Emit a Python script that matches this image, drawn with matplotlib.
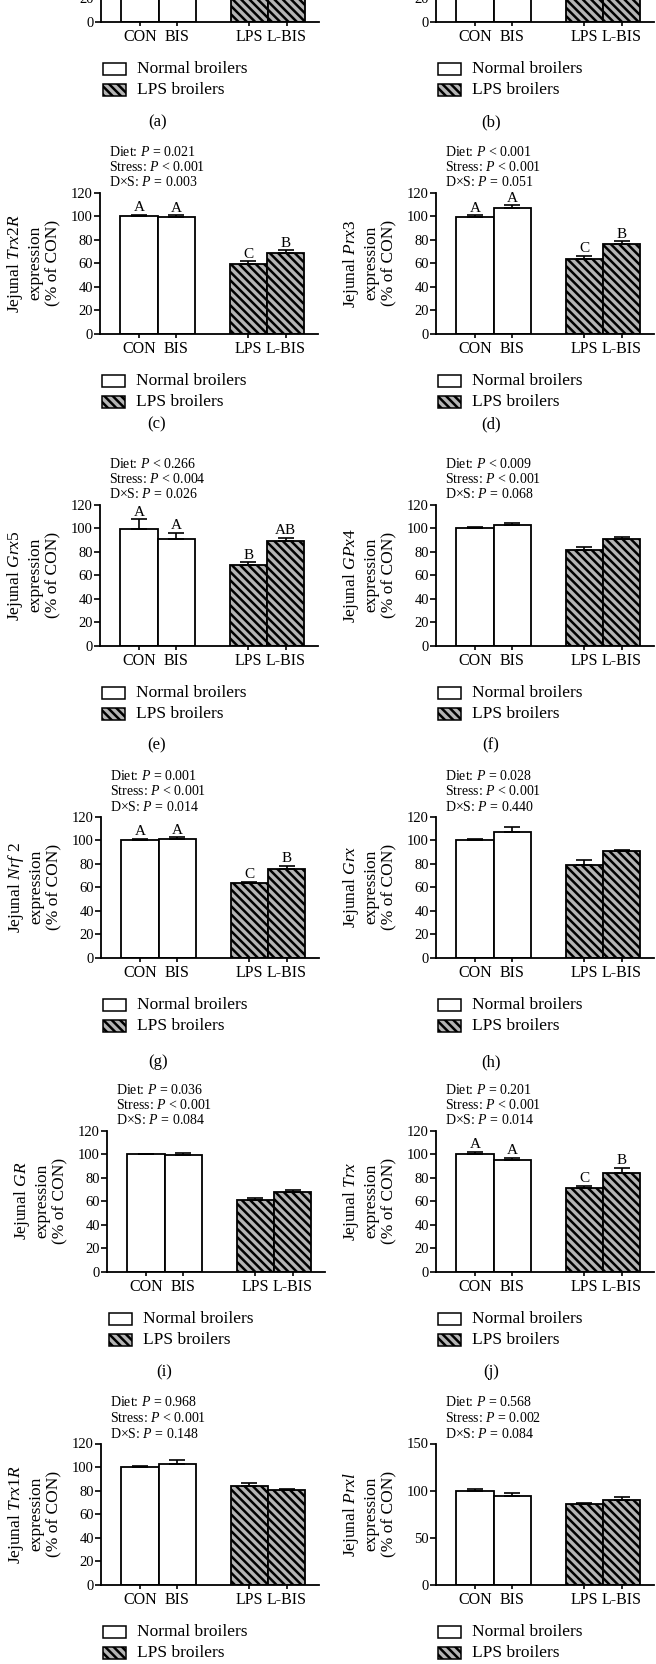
import numpy as np
import matplotlib
matplotlib.use("Agg")
import matplotlib.pyplot as plt
from matplotlib.patches import Rectangle

plt.rcParams["font.family"] = ["Liberation Serif", "DejaVu Serif"]
plt.rcParams["mathtext.fontset"] = "custom"
plt.rcParams["mathtext.rm"] = "Liberation Serif"
plt.rcParams["mathtext.it"] = "Liberation Serif:italic"
plt.rcParams["hatch.linewidth"] = 1.8

W, H = 656, 1664

groups = ["CON", "BIS", "LPS", "L-BIS"]
legend_labels = ["Normal broilers", "LPS broilers"]
panel_ids = ["a", "b", "c", "d", "e", "f", "g", "h", "i", "j", "k", "l"]

gene_labels = ["Jejunal $\\mathit{Trx}$1", "Jejunal $\\mathit{Prx}$1",
               "Jejunal $\\mathit{Trx}$2$\\mathit{R}$", "Jejunal $\\mathit{Prx}$3",
               "Jejunal $\\mathit{Grx}$5", "Jejunal $\\mathit{GPx}$4",
               "Jejunal $\\mathit{Nrf}$ 2", "Jejunal $\\mathit{Grx}$",
               "Jejunal $\\mathit{GR}$", "Jejunal $\\mathit{Trx}$",
               "Jejunal $\\mathit{Trx}$1$\\mathit{R}$", "Jejunal $\\mathit{Prxl}$"]

# bar means (% of CON), order CON, BIS, LPS, L-BIS
mean_a = [100, 98, 78, 86]
mean_b = [100, 101, 80, 88]
mean_c = [100, 99.5, 59.3, 69]
mean_d = [99.5, 107, 63.5, 76.6]
mean_e = [99.6, 90.8, 68.4, 89.4]
mean_f = [99.9, 102.4, 81.1, 90.5]
mean_g = [99.9, 101, 63.5, 75.5]
mean_h = [100, 106.6, 78.9, 90.5]
mean_i = [99.9, 99.6, 61.3, 67.8]
mean_j = [99.9, 95.3, 71, 84]
mean_k = [99.7, 103, 84, 80.2]
mean_l = [99.5, 94.6, 85.4, 90.3]

sem_a = [1, 1, 2, 2]
sem_b = [1, 1, 2, 2]
sem_c = [1, 1, 2.3, 2]
sem_d = [1, 2.2, 2.8, 2]
sem_e = [8, 5, 2.6, 2.6]
sem_f = [1, 1.7, 2.9, 1.7]
sem_g = [1, 1.4, 0.9, 2.5]
sem_h = [1, 4.6, 4.5, 1.5]
sem_i = [0.5, 1.2, 1.5, 1.7]
sem_j = [2.2, 1.7, 2, 4.2]
sem_k = [1.4, 2.8, 2.3, 1.1]
sem_l = [2, 2.4, 1.4, 3.2]

letters_c = ["A", "A", "C", "B"]
letters_d = ["A", "A", "C", "B"]
letters_e = ["A", "A", "B", "AB"]
letters_g = ["A", "A", "C", "B"]
letters_j = ["A", "A", "C", "B"]

stats_a = ["", "", ""]
stats_b = ["", "", ""]
stats_c = ["= 0.021", "< 0.001", "= 0.003"]
stats_d = ["< 0.001", "< 0.001", "= 0.051"]
stats_e = ["< 0.266", "< 0.004", "= 0.026"]
stats_f = ["< 0.009", "< 0.001", "= 0.068"]
stats_g = ["= 0.001", "< 0.001", "= 0.014"]
stats_h = ["= 0.028", "< 0.001", "= 0.440"]
stats_i = ["= 0.036", "< 0.001", "= 0.084"]
stats_j = ["= 0.201", "< 0.001", "= 0.014"]
stats_k = ["= 0.968", "< 0.001", "= 0.148"]
stats_l = ["= 0.568", "= 0.002", "= 0.084"]

means = [mean_a, mean_b, mean_c, mean_d, mean_e, mean_f,
         mean_g, mean_h, mean_i, mean_j, mean_k, mean_l]
sems = [sem_a, sem_b, sem_c, sem_d, sem_e, sem_f,
        sem_g, sem_h, sem_i, sem_j, sem_k, sem_l]
letters = [None, None, letters_c, letters_d, letters_e, None,
           letters_g, None, None, letters_j, None, None]
stats = [stats_a, stats_b, stats_c, stats_d, stats_e, stats_f,
         stats_g, stats_h, stats_i, stats_j, stats_k, stats_l]
ymax = [120] * 11 + [150]
ystep = [20] * 11 + [50]

# layout in pixels (from top-left)
row_zero = [22, 334, 646, 958, 1272, 1585]
left_x = [101, 100, 100, 101, 107, 101]
right_x = 436
caption_y = [122, 424, 745, 1062, 1372, 1700]
ax_w, ax_h = 218, 141.5

pos = np.array([0, 1, 2.93, 3.93])
hatch_face = "#b4b4b4"


def fx(px):
    return px / W


def fy(py):
    return 1 - py / H


fig = plt.figure(figsize=(W / 100, H / 100), dpi=100)

for n, pid in enumerate(panel_ids):
    row, col = n // 2, n % 2
    x0 = left_x[row] if col == 0 else right_x
    y0 = row_zero[row]
    ax = fig.add_axes([fx(x0), fy(y0), ax_w / W, ax_h / H])

    m = np.array(means[n])
    s = np.array(sems[n])
    ax.bar(pos[:2], m[:2], width=1, color="white", edgecolor="black", lw=1.3, zorder=2)
    ax.bar(pos[2:], m[2:], width=1, color=hatch_face, edgecolor="black", lw=1.3,
           hatch="\\\\\\\\", zorder=2)
    ax.errorbar(pos, m, yerr=[np.zeros(4), s], fmt="none", ecolor="black",
                elinewidth=1.2, capsize=6, capthick=1.2, zorder=3)
    if letters[n] is not None:
        for p, v, e, t in zip(pos, m, s, letters[n]):
            ax.text(p, v + e + 0.5, t, ha="center", va="bottom", fontsize=11)

    ax.set_xlim(-1.05, 4.8)
    ax.set_ylim(0, ymax[n])
    ax.set_yticks(np.arange(0, ymax[n] + 1, ystep[n]))
    ax.set_xticks(pos)
    ax.set_xticklabels(groups, fontsize=11.5)
    ax.tick_params(axis="y", direction="out", length=4, width=1.2, labelsize=10.5, pad=1)
    ax.tick_params(axis="x", direction="out", length=3, width=1.2, pad=2)
    for sp in ["top", "right"]:
        ax.spines[sp].set_visible(False)
    for sp in ["left", "bottom"]:
        ax.spines[sp].set_linewidth(1.3)

    # y label
    ax.text(-67 / ax_w, 0.5, gene_labels[n] + "\nexpression\n(% of CON)",
            transform=ax.transAxes, rotation=90, ha="center", va="center",
            fontsize=12.5, linespacing=1.2, multialignment="center")

    # stats text
    top = y0 - ax_h
    if stats[n][0]:
        tx = x0 + 9
        for k, (lab, val) in enumerate(zip(["Diet", "Stress", "D\u00d7S"], stats[n])):
            fig.text(fx(tx), fy(top - 41 + 15.5 * k), lab + ": $\\mathit{P}$ " + val,
                     ha="left", va="center", fontsize=10)

    # legend
    bx = x0 + 2
    for k, lab in enumerate(legend_labels):
        cy = y0 + 47 + 21 * k
        if k == 0:
            rect = Rectangle((fx(bx), fy(cy + 6)), 23 / W, 12 / H, transform=fig.transFigure,
                             facecolor="white", edgecolor="black", lw=1.1)
        else:
            rect = Rectangle((fx(bx), fy(cy + 6)), 23 / W, 12 / H, transform=fig.transFigure,
                             facecolor=hatch_face, edgecolor="black", lw=1.1, hatch="\\\\\\\\")
        fig.add_artist(rect)
        fig.text(fx(bx + 34), fy(cy), lab, ha="left", va="center", fontsize=12.5)

    # caption
    cx = x0 + 57 if col == 0 else x0 + 55
    fig.text(fx(cx), fy(caption_y[row]), "(" + pid + ")", ha="center", va="center", fontsize=12)

fig.savefig("out.png", dpi=100)
